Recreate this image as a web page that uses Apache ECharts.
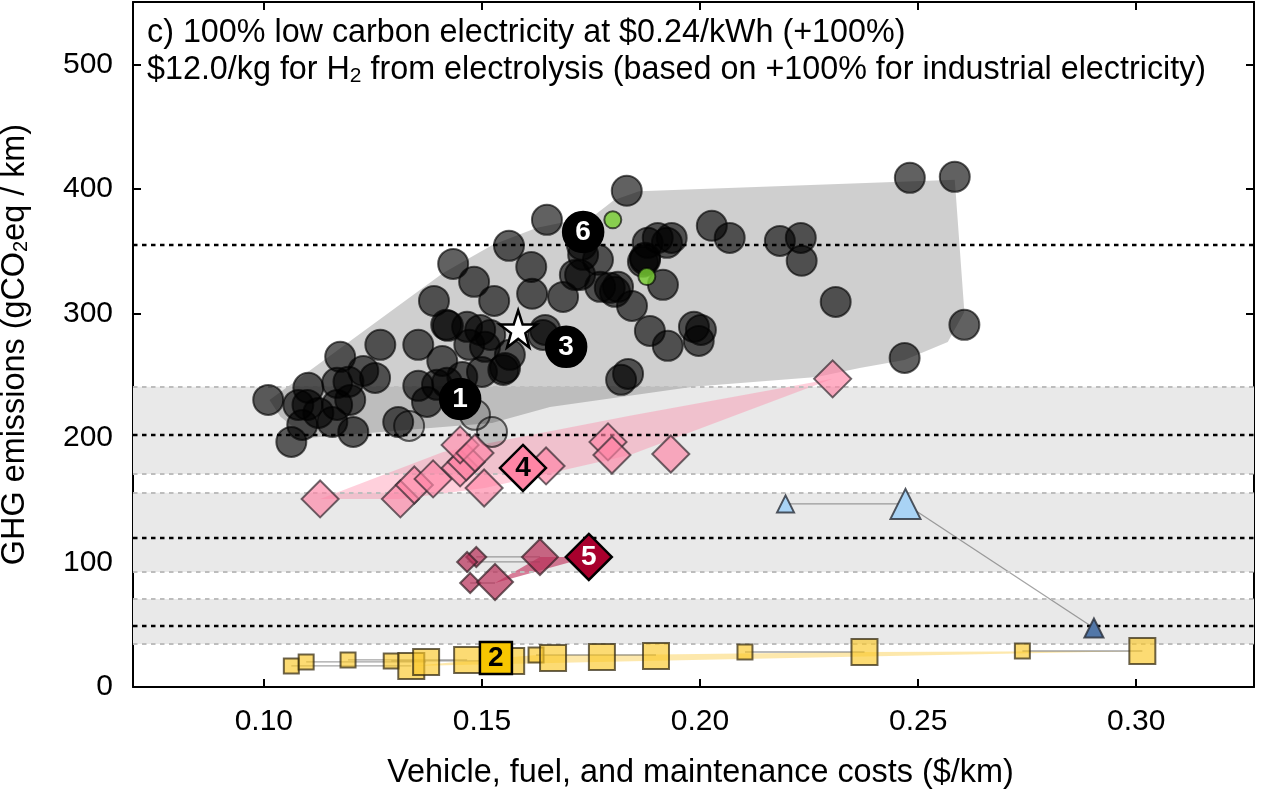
<!DOCTYPE html>
<html>
<head>
<meta charset="utf-8">
<title>GHG emissions vs costs</title>
<script src="https://cdn.jsdelivr.net/npm/echarts@6/dist/echarts.min.js"></script>
<style>
    html, body { margin: 0; padding: 0; background: #fff; }
    #chart { width: 1270px; height: 790px; }
</style>
</head>
<body>
<div id="chart"></div>
<script>
var xTicks = [0.10, 0.15, 0.20, 0.25, 0.30];
var yTicks = [0, 100, 200, 300, 400, 500];

// shaded budget ranges and their dashed centre lines
var bandLow = [171, 92.4, 34.5];
var bandHigh = [241, 156, 70.7];
var targetLines = [355, 202.5, 119.7, 49.3];

var carPoints = [
    [0.1010, 230.5], [0.1102, 240.2], [0.1079, 226.5], [0.1100, 226.5], [0.1175, 265.1], [0.1267, 274.7],
    [0.1228, 253.8], [0.1255, 248.2], [0.1194, 245.0], [0.1168, 244.2], [0.1198, 230.5], [0.1168, 226.5],
    [0.1125, 220.1], [0.1088, 210.4], [0.1157, 212.8], [0.1205, 204.8], [0.1063, 196.8], [0.1354, 274.7],
    [0.1390, 310.0], [0.1409, 261.8], [0.1354, 241.8], [0.1374, 228.9], [0.1397, 242.6], [0.1420, 244.2],
    [0.1455, 249.0], [0.1308, 212.8], [0.1418, 290.8], [0.1422, 290.0], [0.1434, 339.7], [0.1482, 325.3],
    [0.1528, 310.0], [0.1562, 354.2], [0.1613, 337.3], [0.1615, 315.7], [0.1466, 289.2], [0.1471, 274.7],
    [0.1496, 286.7], [0.1507, 273.1], [0.1519, 282.7], [0.1500, 253.0], [0.1564, 266.7], [0.1553, 256.2],
    [0.1549, 254.6], [0.1640, 282.7], [0.1649, 375.1], [0.1832, 398.4], [0.1729, 355.0], [0.1766, 343.0],
    [0.1732, 347.0], [0.1713, 330.9], [0.1725, 330.9], [0.1686, 313.2], [0.1771, 321.3], [0.1793, 320.5],
    [0.1812, 321.3], [0.1805, 317.3], [0.1844, 306.0], [0.1885, 285.9], [0.1926, 273.9], [0.1986, 289.2],
    [0.2002, 286.7], [0.1997, 277.9], [0.2027, 370.3], [0.2068, 360.6], [0.2183, 358.2], [0.2231, 360.6],
    [0.2233, 342.2], [0.2311, 309.2], [0.1835, 251.4], [0.1819, 246.6], [0.1880, 356.6], [0.1903, 360.6],
    [0.1935, 360.6], [0.1924, 356.6], [0.1874, 343.0], [0.1869, 341.4], [0.1874, 344.6], [0.1915, 322.9],
    [0.2481, 408.8], [0.2584, 409.6], [0.2469, 264.2], [0.2606, 290.8], [0.1645, 286.7]
];
var fadedCarPoints = [[0.1333, 209.6], [0.1484, 218.5], [0.1523, 204.8]];
var hybridGreenPoints = [[0.1800, 375.1], [0.1878, 329.5]];
var carKeys = [[0.1450, 231.3, '1'], [0.1693, 273.1, '3'], [0.1732, 365.4, '6']];
var starPoint = [[0.1583, 287.5]];

var pinkPoints = [
    [0.1129, 151.0], [0.1313, 151.0], [0.1345, 162.2], [0.1388, 167.1], [0.1450, 175.9], [0.1464, 180.7],
    [0.1450, 194.4], [0.1484, 187.9], [0.1505, 159.8], [0.1647, 177.5], [0.1789, 196.8], [0.1798, 186.3],
    [0.1933, 187.1], [0.2304, 247.4]
];
var pinkKey = [[0.1594, 175.9, '4']];

var redSmall = [[0.1487, 104.4], [0.1466, 100.4], [0.1473, 83.5]];
var redBig = [[0.1633, 104.4], [0.1530, 84.3]];
var redKey = [[0.1745, 104.4, '5']];
var redLinks = [
    [[0.1487, 104.4], [0.1633, 104.4]],
    [[0.1466, 100.4], [0.1633, 100.4]],
    [[0.1473, 83.5], [0.1530, 83.5]]
];

var yellowSmall = [[0.1063, 16.9], [0.1097, 20.1], [0.1193, 21.7], [0.1292, 20.9], [0.1624, 25.7], [0.2103, 28.1], [0.2739, 28.9]];
var yellowBig = [
    [0.1338, 16.9], [0.1372, 20.1], [0.1466, 21.7], [0.1567, 20.9], [0.1663, 23.3], [0.1775, 24.1],
    [0.1899, 24.9], [0.2377, 28.1], [0.3014, 28.9]
];
var yellowKey = [[0.1532, 23.3, '2']];
var yellowLinks = [
    [[0.1063, 16.9], [0.1338, 16.9]],
    [[0.1097, 20.1], [0.1372, 20.1]],
    [[0.1193, 21.7], [0.1466, 21.7]],
    [[0.1292, 20.9], [0.1567, 20.9]],
    [[0.1624, 25.7], [0.1899, 25.7]],
    [[0.2103, 28.1], [0.2377, 28.1]],
    [[0.2739, 28.9], [0.3014, 28.9]]
];

var blueSmall = [[0.2196, 147]];
var blueBig = [[0.2471, 147]];
var blueDark = [[0.2903, 47.4]];
var blueLink = [[0.2196, 147], [0.2471, 147], [0.2903, 47.4]];

// hull outlines
var greyHull = [
    [0.1013, 230.5], [0.1411, 332.5], [0.1525, 355], [0.1626, 368.7], [0.1755, 378], [0.1803, 391], [0.1860, 398],
    [0.2584, 407.2], [0.2606, 301], [0.2568, 277.1], [0.2469, 262.6], [0.2366, 256.2], [0.2268, 249],
    [0.1984, 241], [0.1656, 224.9], [0.1523, 212], [0.1100, 200], [0.1038, 216.9]
];
var pinkHull = [
    [0.1129, 151], [0.1411, 188.7], [0.1839, 217.7], [0.2304, 247.4], [0.1839, 186.3], [0.1507, 159.8], [0.1313, 151]
];
var redHull = [[0.1530, 83.5], [0.1633, 104.4], [0.1745, 104.4]];
var yellowHull = [
    [0.1338, 16.9], [0.1899, 21], [0.2377, 24.5], [0.3014, 28.9], [0.2377, 28.1], [0.1899, 26], [0.1624, 25.7]
];

var xMin = 0.07, xMax = 0.327, yMin = 0, yMax = 550;
var fontName = '"Liberation Sans", Arial, sans-serif';
var STAR = 'path://M50 0 L61.8 35.4 L98.9 35.4 L69 57.3 L79.4 93.5 L50 72 L20.6 93.5 L31 57.3 L1.1 35.4 L38.2 35.4 Z';

// filled polygon, runs through the axis scales
function hullSeries(name, points, color) {
    return {
        type: 'custom',
        name: name,
        silent: true,
        z: 3,
        data: [[points[0][0], points[0][1]]],
        renderItem: function (params, api) {
            return {
                type: 'polygon',
                shape: { points: points.map(function (p) { return api.coord(p); }) },
                style: { fill: color }
            };
        }
    };
}

function scatterSeries(data, symbol, size, fill, border, z, borderWidth) {
    return {
        type: 'scatter',
        symbol: symbol,
        symbolSize: size,
        data: data,
        silent: true,
        z: z,
        itemStyle: { color: fill, borderColor: border, borderWidth: borderWidth || 2, opacity: 1 }
    };
}

// numbered marker
function keySeries(data, symbol, size, fill, textColor) {
    var s = scatterSeries(data.map(function (d) { return { value: [d[0], d[1]], name: d[2] }; }), symbol, size, fill, '#000', 20, 2.5);
    s.label = {
        show: true,
        position: 'inside',
        formatter: '{b}',
        color: textColor,
        fontFamily: fontName,
        fontWeight: 'bold',
        fontSize: 28
    };
    return s;
}

function linkSeries(points) {
    return {
        type: 'line',
        data: points,
        symbol: 'none',
        silent: true,
        z: 4,
        lineStyle: { color: 'rgba(90,90,90,0.55)', width: 1.3 }
    };
}

var series = [];

// grey bands
series.push({
    type: 'custom',
    silent: true,
    z: 1,
    data: bandLow.map(function (v, i) { return [v, bandHigh[i]]; }),
    encode: { y: [0, 1] },
    renderItem: function (params, api) {
        var a = api.coord([xMin, api.value(1)]);
        var b = api.coord([xMax, api.value(0)]);
        return { type: 'rect', shape: { x: a[0], y: a[1], width: b[0] - a[0], height: b[1] - a[1] }, style: { fill: '#e9e9e9' } };
    }
});

// dashed band edges
series.push({
    type: 'line',
    data: [],
    silent: true,
    z: 2,
    markLine: {
        silent: true,
        symbol: 'none',
        animation: false,
        label: { show: false },
        lineStyle: { color: '#bdbdbd', type: [4.5, 4.5], width: 2 },
        data: bandLow.concat(bandHigh).map(function (v) { return { yAxis: v }; })
    }
});

series.push(hullSeries('grey', greyHull, 'rgba(0,0,0,0.19)'));
series.push(hullSeries('pink', pinkHull, 'rgba(255,120,155,0.35)'));
series.push(hullSeries('red', redHull, 'rgba(190,40,85,0.6)'));
series.push(hullSeries('yellow', yellowHull, 'rgba(250,205,70,0.45)'));

// black target lines
series.push({
    type: 'line',
    data: [],
    silent: true,
    z: 3,
    markLine: {
        silent: true,
        symbol: 'none',
        animation: false,
        label: { show: false },
        lineStyle: { color: '#000', type: [4.5, 4.5], width: 2.4 },
        data: targetLines.map(function (v) { return { yAxis: v }; })
    }
});

redLinks.concat(yellowLinks).forEach(function (l) { series.push(linkSeries(l)); });
series.push(linkSeries(blueLink));

series.push(scatterSeries(carPoints, 'circle', 30, 'rgba(0,0,0,0.62)', 'rgba(0,0,0,0.62)', 5));
series.push(scatterSeries(fadedCarPoints, 'circle', 30, 'rgba(0,0,0,0.18)', 'rgba(0,0,0,0.6)', 5));
series.push(scatterSeries(hybridGreenPoints, 'circle', 17, 'rgba(120,205,50,0.82)', 'rgba(0,0,0,0.65)', 6));
series.push(scatterSeries(starPoint, STAR, 37, '#fff', '#000', 19, 2.5));

series.push(scatterSeries(pinkPoints, 'diamond', 37, 'rgba(255,130,165,0.65)', 'rgba(50,40,45,0.7)', 7));
series.push(scatterSeries(redSmall, 'diamond', 20, 'rgba(185,50,90,0.72)', 'rgba(50,30,35,0.7)', 7));
series.push(scatterSeries(redBig, 'diamond', 36, 'rgba(185,50,90,0.72)', 'rgba(50,30,35,0.7)', 7));

series.push(scatterSeries(yellowSmall, 'rect', 15, 'rgba(250,200,40,0.65)', 'rgba(50,40,15,0.72)', 7));
series.push(scatterSeries(yellowBig, 'rect', 26, 'rgba(250,200,40,0.65)', 'rgba(50,40,15,0.72)', 7));

series.push(scatterSeries(blueSmall, 'triangle', 17, '#a9d3f5', 'rgba(40,45,55,0.8)', 7));
series.push(scatterSeries(blueBig, 'triangle', 30, '#a9d3f5', 'rgba(40,45,55,0.8)', 7));
series.push(scatterSeries(blueDark, 'triangle', 19, '#5277a8', 'rgba(40,45,55,0.8)', 7));

series.push(keySeries(carKeys, 'circle', 40, '#000', '#fff'));
series.push(keySeries(pinkKey, 'diamond', 46, '#ff85a5', '#000'));
series.push(keySeries(redKey, 'diamond', 46, '#a8002d', '#fff'));
series.push(keySeries(yellowKey, 'rect', 32, '#f7c600', '#000'));

function baseAxis(type, position, min, max, ticks) {
    return {
        type: 'value',
        position: position,
        min: min,
        max: max,
        splitLine: { show: false },
        axisLine: { show: true, onZero: false, lineStyle: { color: '#000', width: 2 } },
        axisTick: { show: true, inside: true, length: 8, customValues: ticks, lineStyle: { color: '#000', width: 2 } },
        axisLabel: { show: false }
    };
}

var xBottom = baseAxis('x', 'bottom', xMin, xMax, xTicks);
xBottom.axisLabel = {
    show: true, margin: 20, fontSize: 30, color: '#000', fontFamily: fontName,
    customValues: xTicks,
    formatter: function (v) { return v.toFixed(2); }
};
xBottom.name = 'Vehicle, fuel, and maintenance costs ($/km)';
xBottom.nameLocation = 'middle';
xBottom.nameGap = 70;
xBottom.nameTextStyle = { fontSize: 32.4, color: '#000', fontFamily: fontName, padding: [0, 0, 0, 14] };

var yLeft = baseAxis('y', 'left', yMin, yMax, yTicks);
yLeft.axisLabel = {
    show: true, margin: 20, fontSize: 30, color: '#000', fontFamily: fontName,
    customValues: yTicks
};
yLeft.name = '{t|GHG emissions (gCO}{s|2}{t|eq / km)}';
yLeft.nameLocation = 'middle';
yLeft.nameGap = 102;
yLeft.nameTextStyle = {
    color: '#000',
    rich: {
        t: { fontSize: 32.4, color: '#000', fontFamily: fontName },
        s: { fontSize: 20, color: '#000', fontFamily: fontName, padding: [12, 0, 0, 0] }
    }
};

var option = {
    animation: false,
    grid: { left: 133, right: 16, top: 2, bottom: 103, show: false, outerBoundsMode: 'none' },
    xAxis: [xBottom, baseAxis('x', 'top', xMin, xMax, xTicks)],
    yAxis: [yLeft, baseAxis('y', 'right', yMin, yMax, yTicks)],
    graphic: [
        {
            type: 'text', left: 147, top: 17, z: 50, silent: true,
            style: { text: 'c) 100% low carbon electricity at $0.24/kWh (+100%)', fill: '#000', font: '32.3px ' + fontName }
        },
        {
            type: 'text', left: 147, top: 54, z: 50, silent: true,
            style: {
                text: '{t|$12.0/kg for H}{s|2}{t| from electrolysis (based on +100% for industrial electricity)}',
                rich: {
                    t: { fill: '#000', font: '32.3px ' + fontName },
                    s: { fill: '#000', font: '21px ' + fontName, padding: [12, 0, 0, 0] }
                }
            }
        }
    ],
    series: series
};

var chart = echarts.init(document.getElementById('chart'), null, { renderer: 'canvas' });
chart.setOption(option);
</script>
</body>
</html>
